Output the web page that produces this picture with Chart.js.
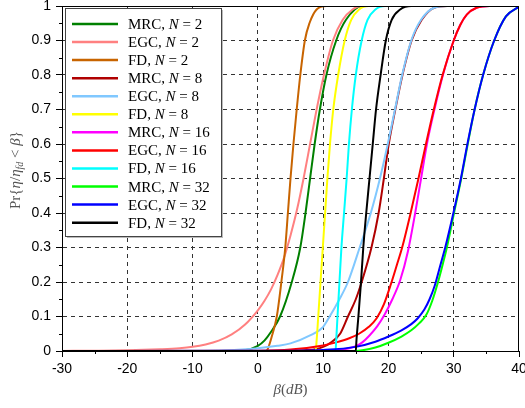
<!DOCTYPE html>
<html><head><meta charset="utf-8">
<script src="https://cdn.jsdelivr.net/npm/chart.js@4/dist/chart.umd.min.js"></script>
<style>html,body{margin:0;padding:0;background:#fff;}canvas{display:block;}</style>
</head><body>
<canvas id="c" width="525" height="408"></canvas>
<script>
// ---- data ----
const xTickLabels = [-30, -20, -10, 0, 10, 20, 30, 40];
const yTickLabels = [0, 0.1, 0.2, 0.3, 0.4, 0.5, 0.6, 0.7, 0.8, 0.9, 1];

const seriesScheme = ['MRC', 'EGC', 'FD', 'MRC', 'EGC', 'FD', 'MRC', 'EGC', 'FD', 'MRC', 'EGC', 'FD'];
const seriesN = [2, 2, 2, 8, 8, 8, 16, 16, 16, 32, 32, 32];

const mrc2B = [-30, -4, -2, 0, 1, 2, 3.4, 5.2, 6.5, 7.3, 8.0, 8.7, 9.5, 10.5, 12, 13.5, 16, 40];
const mrc2P = [0, 0, 0.002, 0.015, 0.03, 0.055, 0.1, 0.2, 0.3, 0.4, 0.5, 0.6, 0.7, 0.8, 0.9, 0.96, 1, 1];
const egc2B = [-30, -25, -20, -15, -12, -10, -8, -6, -4, -2, 0, 1, 2, 3, 4, 5, 6, 7, 8, 9, 10, 11.5, 13, 14.5, 16, 40];
const egc2P = [0.0003, 0.0008, 0.002, 0.005, 0.008, 0.012, 0.019, 0.03, 0.048, 0.076, 0.118, 0.145, 0.178, 0.22, 0.27, 0.335, 0.41, 0.5, 0.6, 0.7, 0.79, 0.9, 0.96, 0.99, 1, 1];
const fd2B = [-30, 1.3, 1.6, 2.1, 2.9, 3.6, 4.2, 4.6, 5.0, 5.45, 5.95, 6.5, 7.2, 7.9, 9, 10.5, 40];
const fd2P = [0, 0, 0.01, 0.04, 0.1, 0.2, 0.3, 0.4, 0.5, 0.6, 0.7, 0.8, 0.9, 0.95, 0.99, 1, 1];

const mrc8B = [-30, 5, 7, 9, 10, 11, 12.6, 13.8, 15.0, 15.9, 17.4, 18.5, 19.3, 20.05, 21.05, 22.15, 23.55, 25.1, 27, 29, 40];
const mrc8P = [0, 0, 0.002, 0.006, 0.012, 0.022, 0.05, 0.1, 0.15, 0.2, 0.3, 0.4, 0.5, 0.6, 0.7, 0.8, 0.9, 0.96, 0.995, 1, 1];
const egc8B = [-30, -10, -5, 0, 3, 5, 8, 10, 11, 12.5, 13.8, 15.6, 17.3, 18.7, 19.9, 21.0, 22.1, 23.5, 25, 27, 29, 40];
const egc8P = [0, 0.0005, 0.002, 0.008, 0.015, 0.022, 0.045, 0.07, 0.1, 0.15, 0.2, 0.3, 0.4, 0.5, 0.6, 0.7, 0.8, 0.9, 0.96, 0.995, 1, 1];
const fd8B = [-30, 8.85, 9.0, 9.25, 9.6, 9.95, 10.3, 10.65, 11.05, 11.55, 12.3, 13.3, 14.3, 15.5, 17, 40];
const fd8P = [0, 0, 0.03, 0.1, 0.2, 0.3, 0.4, 0.5, 0.6, 0.7, 0.8, 0.9, 0.96, 0.99, 1, 1];

const mrc16B = [-30, 10, 12, 14, 15, 16, 17.1, 18.3, 19.4, 20.6, 21.8, 23.0, 24.1, 25.0, 25.9, 27.05, 28.35, 30.0, 31.0, 32.0, 33.5, 35.5, 40];
const mrc16P = [0, 0, 0.002, 0.008, 0.014, 0.025, 0.045, 0.072, 0.105, 0.15, 0.205, 0.29, 0.4, 0.5, 0.6, 0.7, 0.8, 0.9, 0.945, 0.975, 0.995, 1, 1];
const egc16B = [-30, 0, 5, 10, 12, 14, 15.5, 17, 18.2, 19.3, 20.4, 21.3, 22.1, 23.4, 24.6, 25.75, 26.95, 28.3, 30.0, 31.0, 32.0, 33.5, 35.5, 40];
const egc16P = [0, 0.001, 0.004, 0.016, 0.025, 0.037, 0.05, 0.07, 0.095, 0.135, 0.195, 0.25, 0.3, 0.4, 0.5, 0.6, 0.7, 0.8, 0.9, 0.945, 0.975, 0.995, 1, 1];
const fd16B = [-30, 11.9, 12.0, 12.2, 12.5, 12.8, 13.2, 13.6, 13.95, 14.4, 15.0, 15.9, 16.8, 18, 19.5, 40];
const fd16P = [0, 0, 0.03, 0.1, 0.2, 0.3, 0.4, 0.5, 0.6, 0.7, 0.8, 0.9, 0.96, 0.99, 1, 1];

const mrc32B = [-30, 15, 16, 18, 20, 22, 23.5, 24.7, 25.8, 26.7, 27.6, 28.3, 28.95, 30.05, 31.15, 32.15, 33.2, 34.5, 36.2, 38, 40];
const mrc32P = [0, 0, 0.002, 0.01, 0.024, 0.042, 0.06, 0.08, 0.105, 0.145, 0.2, 0.25, 0.3, 0.4, 0.5, 0.6, 0.7, 0.8, 0.9, 0.97, 0.998];
const egc32B = [-30, 5, 10, 15, 18, 20, 22, 23.5, 24.5, 25.5, 26.3, 27.1, 27.9, 28.7, 29.95, 31.1, 32.1, 33.2, 34.5, 36.2, 38, 40];
const egc32P = [0, 0.001, 0.003, 0.012, 0.027, 0.042, 0.06, 0.078, 0.095, 0.12, 0.15, 0.19, 0.245, 0.3, 0.4, 0.5, 0.6, 0.7, 0.8, 0.9, 0.97, 0.998];
const fd32B = [-30, 15.0, 15.1, 15.4, 15.8, 16.15, 16.6, 17.1, 17.6, 18.1, 18.8, 19.6, 20.5, 21.8, 23.5, 40];
const fd32P = [0, 0, 0.03, 0.1, 0.2, 0.3, 0.4, 0.5, 0.6, 0.7, 0.8, 0.9, 0.96, 0.99, 1, 1];

const seriesBeta = [mrc2B, egc2B, fd2B, mrc8B, egc8B, fd8B, mrc16B, egc16B, fd16B, mrc32B, egc32B, fd32B];
const seriesProb = [mrc2P, egc2P, fd2P, mrc8P, egc8P, fd8P, mrc16P, egc16P, fd16P, mrc32P, egc32P, fd32P];

// ---- styles ----
const seriesColors = ['#008000', '#FF8080', '#C86400', '#B00000', '#80C8FF', '#FFFF00',
                      '#FF00FF', '#FF0000', '#00FFFF', '#00FF00', '#0000FF', '#000000'];

const SERIF = '"Liberation Serif", "Times New Roman", serif';
const TITLE_COLOR = '#555';

function drawRich(ctx, segs, x, y, align) {
  let total = 0;
  segs.forEach(s => { ctx.font = s.f; s.w = ctx.measureText(s.t).width; total += s.w; });
  let cx = align === 'center' ? x - total / 2 : x;
  segs.forEach(s => { ctx.font = s.f; ctx.fillText(s.t, cx, y + (s.dy || 0)); cx += s.w; });
}

const datasets = seriesBeta.map((b, i) => ({
  label: seriesScheme[i] + ', N = ' + seriesN[i],
  data: b.map((v, k) => ({x: v, y: seriesProb[i][k]})),
  borderColor: seriesColors[i],
  backgroundColor: seriesColors[i],
  borderWidth: 2,
  pointRadius: 0,
  fill: false,
  cubicInterpolationMode: 'monotone',
  order: -i
}));

const isMajorX = v => xTickLabels.includes(v);
const isMajorY = v => Math.round(v * 100) % 10 === 0;

const decorPlugin = {
  id: 'decor',
  afterDatasetsDraw(chart) {
    const ctx = chart.ctx, a = chart.chartArea;
    ctx.save();
    // frame
    ctx.strokeStyle = '#000'; ctx.lineWidth = 1;
    ctx.strokeRect(Math.round(a.left) + 0.5, Math.round(a.top) + 0.5, Math.round(a.right - a.left) - 1, Math.round(a.bottom - a.top));
    // minor ticks (short)
    const xs = chart.scales.x, ys = chart.scales.y;
    ctx.beginPath();
    xs.ticks.forEach(t => { if (!isMajorX(t.value)) { const px = Math.round(xs.getPixelForValue(t.value)) + 0.5; ctx.moveTo(px, a.bottom); ctx.lineTo(px, a.bottom + 3); } });
    ys.ticks.forEach(t => { if (!isMajorY(t.value)) { const py = Math.round(ys.getPixelForValue(t.value)) + 0.5; ctx.moveTo(a.left, py); ctx.lineTo(a.left - 3, py); } });
    ctx.stroke();
    // legend box
    const bx = 65, by = 8, bw = 156, bh = 228;
    ctx.fillStyle = '#bbb';
    ctx.fillRect(bx + 2, by + 2, bw, bh);
    ctx.fillStyle = '#fff';
    ctx.fillRect(bx, by, bw, bh);
    ctx.strokeStyle = '#444'; ctx.lineWidth = 1;
    ctx.strokeRect(bx + 0.5, by + 0.5, bw, bh);
    const rowH = 18.06;
    ctx.textBaseline = 'alphabetic';
    ctx.textAlign = 'left';
    for (let i = 0; i < seriesScheme.length; i++) {
      const y = 24 + i * rowH;
      ctx.strokeStyle = seriesColors[i]; ctx.lineWidth = 2.5;
      ctx.beginPath(); ctx.moveTo(72, y); ctx.lineTo(118, y); ctx.stroke();
      ctx.fillStyle = '#000';
      drawRich(ctx, [
        {t: seriesScheme[i] + ', ', f: '15px ' + SERIF},
        {t: 'N', f: 'italic 15px ' + SERIF},
        {t: ' = ' + seriesN[i], f: '15px ' + SERIF}
      ], 128, y + 5, 'left');
    }
    // x title
    ctx.fillStyle = TITLE_COLOR;
    drawRich(ctx, [
      {t: 'β', f: 'italic 15px ' + SERIF},
      {t: '(', f: '15px ' + SERIF},
      {t: 'dB', f: 'italic 15px ' + SERIF},
      {t: ')', f: '15px ' + SERIF}
    ], (a.left + a.right) / 2, 394, 'center');
    // y title
    ctx.translate(20, 170);
    ctx.rotate(-Math.PI / 2);
    drawRich(ctx, [
      {t: 'Pr{', f: '15px ' + SERIF},
      {t: 'η', f: 'italic 15px ' + SERIF},
      {t: '/', f: '15px ' + SERIF},
      {t: 'η', f: 'italic 15px ' + SERIF},
      {t: 'fd', f: 'italic 10px ' + SERIF, dy: 3},
      {t: ' < ', f: '15px ' + SERIF},
      {t: 'β', f: 'italic 15px ' + SERIF},
      {t: '}', f: '15px ' + SERIF}
    ], 0, 0, 'center');
    ctx.restore();
  }
};

Chart.defaults.font.family = '"Liberation Sans", Arial, sans-serif';
Chart.defaults.font.size = 14;
Chart.defaults.color = '#000';

const xMin = xTickLabels[0], xMax = xTickLabels[xTickLabels.length - 1];
const yMin = yTickLabels[0], yMax = yTickLabels[yTickLabels.length - 1];

new Chart(document.getElementById('c'), {
  type: 'line',
  data: {datasets},
  options: {
    responsive: false,
    animation: false,
    devicePixelRatio: 1,
    layout: {padding: {top: 6, right: 6, left: 0, bottom: 0}},
    plugins: {legend: {display: false}, tooltip: {enabled: false}},
    scales: {
      x: {
        type: 'linear', min: xMin, max: xMax,
        afterFit(s) { s.height = 57; s.paddingLeft = 0; s.paddingRight = 0; },
        ticks: {
          stepSize: 5, autoSkip: false, maxRotation: 0, padding: 4,
          callback: v => isMajorX(v) ? String(v) : ''
        },
        grid: {
          color: c => (c.tick && isMajorX(c.tick.value) && c.tick.value !== xMin && c.tick.value !== xMax) ? '#333' : 'rgba(0,0,0,0)',
          tickColor: c => (c.tick && isMajorX(c.tick.value)) ? '#000' : 'rgba(0,0,0,0)',
          tickLength: 6, lineWidth: 1
        },
        border: {display: true, color: '#000', width: 1, dash: [4, 4]}
      },
      y: {
        type: 'linear', min: yMin, max: yMax,
        afterFit(s) { s.width = 62; s.paddingTop = 0; s.paddingBottom = 0; },
        ticks: {
          stepSize: 0.05, autoSkip: false, padding: 5,
          callback: v => isMajorY(v) ? String(Math.round(v * 100) / 100) : ''
        },
        grid: {
          color: c => { if (!c.tick) return 'rgba(0,0,0,0)'; const r = Math.round(c.tick.value * 100); return (r % 10 === 0 && r !== 0 && r !== 100) ? '#333' : 'rgba(0,0,0,0)'; },
          tickColor: c => (c.tick && isMajorY(c.tick.value)) ? '#000' : 'rgba(0,0,0,0)',
          tickLength: 6, lineWidth: 1
        },
        border: {display: true, color: '#000', width: 1, dash: [4, 4]}
      }
    }
  },
  plugins: [decorPlugin]
});
</script>
</body></html>
